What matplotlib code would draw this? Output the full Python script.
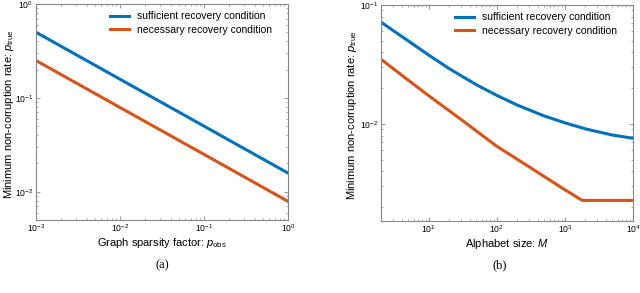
import matplotlib
matplotlib.use('Agg')
import matplotlib.pyplot as plt
import numpy as np

plt.rcParams['font.family'] = ['Liberation Sans', 'DejaVu Sans']
plt.rcParams['mathtext.fontset'] = 'custom'
plt.rcParams['mathtext.rm'] = 'Liberation Sans'
plt.rcParams['mathtext.it'] = 'Liberation Sans:italic'
plt.rcParams['mathtext.bf'] = 'Liberation Sans:bold'

# panel (a): minimum non-corruption rate vs graph sparsity factor
p_obs = [1e-3, 1e-2, 1e-1, 1.0]
suff_a = [0.5, 0.158, 0.05, 0.0158]
nec_a = [0.25, 0.079, 0.025, 0.0079]

# panel (b): minimum non-corruption rate vs alphabet size
M_suff = [2, 3, 5, 10, 20, 50, 100, 200, 500, 1000, 2000, 5000, 10000]
suff_b = [0.0718, 0.0611, 0.0500, 0.0380, 0.0292, 0.0214, 0.0174, 0.01442,
          0.01167, 0.01023, 0.0091, 0.00807, 0.00759]
M_nec = [2, 5, 10, 30, 100, 300, 1000, 1800, 10000]
nec_b = [0.035, 0.0234, 0.0173, 0.0109, 0.0065, 0.00436, 0.0028, 0.00228, 0.00228]

BLUE = '#0072BD'
ORANGE = '#D95319'
labels = ['sufficient recovery condition', 'necessary recovery condition']

fig = plt.figure(figsize=(6.4, 2.93), dpi=100)
ax1 = fig.add_axes([36/640, 1-220/293, 252/640, 216/293])
ax2 = fig.add_axes([381/640, 1-221/293, 252/640, 216/293])


def style_axes(ax):
    ax.set_xscale('log')
    ax.set_yscale('log')
    for s in ax.spines.values():
        s.set_color('#888888')
        s.set_linewidth(0.8)
    ax.tick_params(which='both', direction='in', top=True, right=True,
                   color='#888888', labelsize=6.2, pad=2)
    ax.tick_params(which='major', length=3, width=0.6)
    ax.tick_params(which='minor', length=1.6, width=0.5)


def add_legend(ax):
    ax.legend(loc='upper right', bbox_to_anchor=(0.952, 0.985), fontsize=7.5,
              frameon=False, handlelength=1.9, handletextpad=0.7,
              labelspacing=0.3, borderaxespad=0)


ylab = r'Minimum non-corruption rate: $p_{\rm true}$'

ax1.plot(p_obs, suff_a, color=BLUE, lw=2.2, label=labels[0])
ax1.plot(p_obs, nec_a, color=ORANGE, lw=2.2, label=labels[1])
style_axes(ax1)
ax1.set_xlim(1e-3, 1)
ax1.set_ylim(0.005, 1)
ax1.set_xlabel(r'Graph sparsity factor: $p_{\rm obs}$', fontsize=8, labelpad=1)
ax1.set_ylabel(ylab, fontsize=8, va='center')
ax1.yaxis.set_label_coords(-0.108, 0.49)
add_legend(ax1)

ax2.plot(M_suff, suff_b, color=BLUE, lw=2.2, label=labels[0])
ax2.plot(M_nec, nec_b, color=ORANGE, lw=2.2, label=labels[1])
style_axes(ax2)
ax2.set_xlim(2, 1e4)
ax2.set_ylim(0.00153, 0.1)
ax2.set_xlabel(r'Alphabet size: $M$', fontsize=8, labelpad=1)
ax2.set_ylabel(ylab, fontsize=8, va='center')
ax2.yaxis.set_label_coords(-0.115, 0.49)
add_legend(ax2)

fig.text(162/640, 1-265/293, '(a)', family='Liberation Serif', fontsize=9,
         ha='center', va='center')
fig.text(500/640, 1-265/293, '(b)', family='Liberation Serif', fontsize=9,
         ha='center', va='center')

fig.savefig('out.png', dpi=100)
